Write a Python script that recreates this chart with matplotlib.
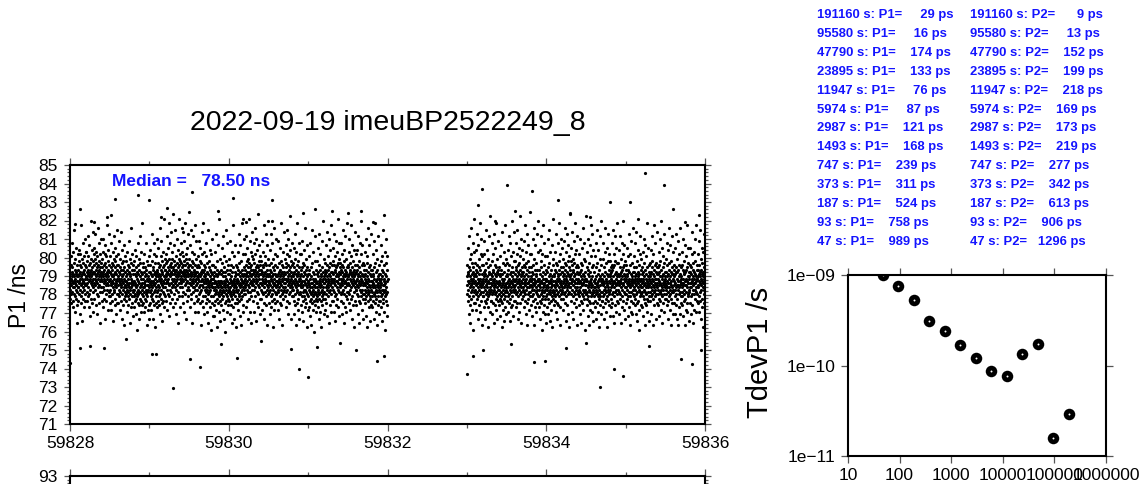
import numpy as np
import matplotlib
matplotlib.use("Agg")
import matplotlib.pyplot as plt
from matplotlib.ticker import MultipleLocator, FixedLocator

plt.rcParams["font.family"] = ["Liberation Sans", "DejaVu Sans"]

# ---------------- data ----------------
title = "2022-09-19 imeuBP2522249_8"
median_text = "Median =   78.50 ns"

# time segments (MJD) of the P1 record; samples are evenly spaced inside each
seg1_mjd = (59828.0, 59832.0)
seg2_mjd = (59833.0, 59836.0)

# P1 samples in the dense band, coded in steps of
# 0.12 ns; code 65 = 78.50 ns (the median)
P1_STEP_NS = 0.12
P1_REF_CODE, P1_REF_NS = 65, 78.50

p1_seg1_codes = """
63 70 66 59 74 68 61 78 65 57 71 67 84 62 69 73 55 66 64 80 70 58 67 75 61 64 90 69 72 60 66 53 77 68 63 71 82 59 65 70 48 67 74 62 69 56 79 64
72 64 58 69 76 66 81 61 70 67 52 74 63 79 68 71 60 65 92 69 57 73 66 62 77 70 49 68 75 64 71 84 59 67 63 72 55 78 66 70 61 86 68 74 58 65 80 69
65 73 69 80 62 71 58 76 68 66 87 72 60 70 64 78 55 69 74 67 83 61 71 68 51 75 70 63 94 66 72 59 77 69 65 81 70 57 73 67 62 89 68 76 64 71 53 79
74 66 71 59 82 68 77 63 70 88 65 72 56 75 69 67 80 61 73 70 52 78 66 71 64 91 68 74 60 69 76 57 72 84 65 70 67 79 62 73 48 71 68 86 64 75 69 58
70 62 77 67 73 55 80 69 64 71 86 66 74 59 68 72 63 79 70 50 75 67 83 61 69 73 65 58 78 71 66 92 63 70 68 76 54 72 81 65 69 60 74 67 88 62 71 57
63 71 68 78 60 66 73 54 70 65 84 69 61 75 67 58 72 80 64 69 49 74 66 62 77 70 87 63 68 71 56 76 65 73 59 82 67 64 70 52 78 66 72 61 90 68 74 57
69 61 74 65 57 79 67 63 71 85 60 68 73 54 66 70 62 77 64 89 68 58 72 65 50 75 67 61 81 69 63 70 56 76 66 72 59 83 64 68 47 73 65 71 60 78 67 62
61 69 64 76 58 67 72 53 66 63 80 70 60 65 74 56 68 62 85 71 64 59 73 66 48 69 63 77 61 70 66 55 75 64 68 91 60 72 65 57 79 67 62 70 51 74 63 66
67 60 72 63 55 76 65 61 70 81 58 66 73 52 64 69 59 78 62 68 45 71 65 60 84 67 57 74 63 70 61 50 77 66 62 72 56 87 64 69 59 75 62 53 68 80 65 71
58 66 63 93 61 70 56 73 64 68 60 75 57 66 71 53 64 62 79 69 59 65 73 55 67 61 84 70 63 58 72 65 47 68 62 76 60 69 65 54 74 63 67 50 71 64 56 78
68 62 74 57 66 71 81 60 65 70 54 67 63 76 59 69 88 64 61 72 66 50 73 67 58 79 62 70 65 84 56 68 71 63 46 75 66 60 70 78 64 57 69 86 62 72 55 67
71 63 58 69 75 65 82 60 68 73 56 70 64 91 67 61 74 52 69 66 78 59 72 63 85 68 57 71 65 76 49 70 62 67 80 64 73 58 69 66 95 61 74 55 68 72 60 77
64 72 79 66 70 58 75 69 87 63 71 67 54 76 70 82 61 73 68 66 93 60 72 77 65 51 70 74 63 84 69 57 75 71 66 89 62 73 68 80 59 70 64 77 97 67 55 72
73 65 70 83 61 72 68 76 57 71 66 90 64 74 69 52 78 67 72 63 86 70 59 75 68 65 81 73 48 69 71 62 77 66 95 70 74 60 68 79 64 72 55 76 69 84 67 71
66 75 71 60 80 68 73 64 89 70 57 74 67 78 62 72 69 85 53 71 76 65 70 93 68 61 74 79 66 72 50 77 69 63 82 71 67 58 75 88 64 70 73 60 69 98 66 74
72 63 77 68 55 70 83 66 74 61 69 90 65 71 59 76 67 73 48 70 80 64 68 62 75 87 66 71 57 72 69 64 79 53 70 67 92 63 74 68 60 77 71 65 85 58 69 73
63 71 66 78 59 69 74 53 68 64 85 70 61 73 67 57 76 65 82 69 62 71 47 67 75 63 70 89 58 68 72 65 79 55 67 71 64 93 60 69 74 66 52 72 80 63 68 70
69 60 73 64 78 57 67 62 84 66 71 53 68 63 75 59 65 90 61 70 67 48 73 64 58 76 66 62 81 69 55 67 72 63 45 71 65 79 60 68 86 64 57 70 66 74 51 68
60 68 64 74 56 66 71 51 63 69 80 61 67 58 73 64 88 62 66 54 70 63 76 59 65 46 69 72 61 67 83 57 64 70 60 95 66 62 53 71 65 77 58 67 63 49 72 64
67 61 56 70 64 75 59 66 82 62 69 54 71 63 87 60 65 73 50 67 62 78 57 69 64 71 44 66 61 76 63 90 58 68 65 53 72 60 67 84 62 70 56 64 74 59 66 63
63 70 58 66 77 61 68 52 72 64 85 60 67 62 74 56 69 65 80 48 66 71 59 63 92 67 61 73 55 68 64 78 62 66 50 71 60 83 65 69 57 74 63 67 46 70 64 59
68 62 73 57 66 80 63 70 54 67 72 60 88 65 61 75 58 69 64 51 71 66 83 62 68 59 76 65 47 70 63 93 67 60 72 56 66 79 64 69 53 73 61 67 86 63 70 65
64 72 68 79 61 70 66 55 74 69 87 63 71 58 76 67 82 65 73 50 69 62 77 68 95 64 71 59 75 66 85 62 70 53 73 67 80 60 72 69 48 74 65 78 63 70 89 66
72 65 70 58 77 68 84 63 71 67 53 75 69 91 64 72 60 79 66 73 49 70 68 86 62 74 57 71 67 81 65 73 61 97 69 55 76 70 64 83 68 72 59 78 66 70 52 74
63 70 76 66 59 72 68 85 62 71 65 54 74 67 80 61 69 73 57 66 92 64 70 50 75 68 62 78 66 71 88 60 69 74 56 67 63 83 70 65 47 72 67 77 61 69 94 64
70 62 67 74 57 66 81 63 69 52 72 65 88 60 68 71 55 75 64 67 61 84 69 58 73 66 46 70 63 77 65 91 59 68 72 54 66 79 62 70 65 57 74 67 86 61 69 64
61 69 65 73 58 67 78 63 70 54 66 85 62 71 67 50 75 64 68 60 82 66 72 57 69 93 63 70 65 76 56 68 61 74 47 67 71 64 80 62 69 59 73 66 89 63 70 68
71 64 68 77 60 70 66 83 62 73 68 55 75 67 90 63 71 58 79 69 65 52 74 68 86 61 72 66 78 57 70 64 96 67 73 62 81 69 65 50 76 68 71 60 84 66 74 63
64 70 60 67 75 63 69 82 58 71 66 52 73 65 88 61 68 77 56 70 64 47 72 67 80 62 69 57 74 66 93 63 70 59 76 65 54 71 68 84 61 67 73 50 69 65 79 62
68 61 72 64 56 70 66 79 60 67 53 73 64 85 62 69 58 75 65 49 71 63 81 67 60 74 66 55 70 63 91 59 68 72 57 65 77 62 69 46 73 64 83 61 67 70 54 66
60 67 63 72 55 65 70 78 58 64 51 68 62 84 66 59 73 61 47 69 64 57 75 62 66 90 60 68 54 71 63 80 58 65 67 44 70 61 76 64 56 68 62 87 59 66 72 53
67 61 58 70 64 76 60 66 82 62 69 55 71 63 50 67 74 59 65 88 61 68 64 53 72 66 79 58 69 62 46 70 65 85 60 67 73 56 63 71 59 94 64 68 61 77 52 66
62 69 66 75 59 68 72 54 70 64 83 61 67 71 57 74 65 89 63 69 51 72 66 78 60 68 64 48 73 67 86 62 70 56 75 65 81 63 69 53 71 66 92 61 68 74 58 67
71 64 68 58 76 67 82 63 70 66 53 74 68 88 62 71 60 78 65 72 49 69 67 85 61 73 56 70 64 80 67 74 59 95 66 69 55 75 63 71 84 68 62 77 51 70 65 73
64 70 75 66 58 72 68 84 61 71 65 52 74 67 79 62 69 90 57 68 73 63 70 48 76 66 61 81 67 72 55 69 64 87 60 71 66 77 53 70 68 62 93 65 73 59 69 74
69 62 73 66 80 57 70 65 86 61 71 68 54 75 63 72 67 92 59 70 64 78 50 69 73 66 83 60 68 71 56 76 65 70 46 72 67 81 62 69 89 64 74 58 70 66 79 63
63 71 67 56 74 65 81 61 68 72 52 69 64 87 60 70 66 76 58 67 48 73 63 84 69 65 57 71 62 79 66 94 60 68 74 54 67 63 83 70 65 59 75 61 69 50 72 66
69 61 66 74 57 68 63 80 59 70 65 51 72 62 86 67 60 75 64 46 69 66 78 58 68 63 91 61 71 55 67 73 62 83 65 59 70 64 49 74 60 67 88 63 69 56 72 65
60 67 72 62 55 69 64 79 58 66 70 50 73 61 85 65 68 57 75 62 93 64 60 71 53 67 63 81 59 68 47 72 65 62 77 56 69 64 87 60 66 74 52 68 63 70 58 65
67 62 58 70 64 76 60 68 83 55 66 63 72 49 69 61 78 65 57 71 63 90 59 67 74 62 53 68 65 80 60 70 45 66 63 75 58 69 86 64 61 72 56 67 62 78 51 68
"""

p1_seg2_codes = """
61 69 65 74 58 67 71 82 63 70 66 52 73 60 87 67 64 77 56 69 48 72 65 79 62 68 91 59 70 66 75 54 67 63 84 60 71 68 45 73 64 80 57 69 66 95 62 70
70 63 67 57 75 65 81 61 69 72 54 66 88 62 71 59 74 64 50 68 66 83 60 73 67 56 77 63 70 93 65 61 72 53 68 79 64 66 58 86 62 70 74 47 67 65 78 60
62 68 74 60 66 71 55 79 64 69 85 58 67 63 72 50 70 65 90 61 68 57 75 66 62 81 59 69 64 46 73 67 60 77 55 70 63 87 66 61 71 53 68 64 96 62 74 58
68 63 70 58 66 76 61 84 65 69 52 72 62 67 79 57 71 64 48 68 88 63 66 74 56 70 61 82 65 59 73 67 54 69 93 62 66 71 60 77 64 50 70 63 85 66 58 72
61 67 63 73 56 65 70 78 59 66 51 69 62 83 64 58 72 60 46 68 65 89 57 70 63 66 54 75 61 67 80 59 64 71 49 68 62 92 65 60 74 55 66 63 77 52 69 64
69 62 66 75 58 70 64 81 60 67 53 72 65 87 61 68 57 74 63 49 70 66 84 59 67 71 55 64 78 62 69 94 60 66 73 56 68 63 80 51 71 65 58 76 62 67 89 64
63 70 67 58 76 65 72 84 61 68 55 73 66 90 62 69 79 57 71 64 50 67 74 60 82 66 70 53 75 63 68 96 61 72 65 57 78 67 62 86 69 64 48 73 66 71 59 81
70 64 60 68 77 63 71 55 74 66 85 62 69 58 73 65 92 61 67 52 75 68 80 63 70 57 66 88 64 72 47 69 61 76 66 83 59 71 64 54 73 67 62 79 65 98 60 68
62 69 65 56 73 67 79 60 68 64 51 71 63 86 66 58 74 61 70 91 65 47 68 63 77 59 67 72 55 66 83 62 69 64 75 53 70 61 88 67 63 57 72 65 80 60 68 94
67 60 65 72 55 68 63 81 58 66 70 50 64 76 61 87 67 57 73 62 66 45 69 63 79 59 68 53 71 64 92 60 66 74 56 65 62 84 68 52 70 63 78 59 67 64 48 72
60 68 63 55 71 65 78 61 67 73 52 64 86 59 69 62 75 57 66 90 63 70 49 67 61 80 64 58 72 66 54 68 62 83 60 69 65 46 74 63 77 59 67 95 61 70 56 65
69 62 72 58 67 64 80 60 71 66 53 75 63 88 68 61 74 57 65 50 70 67 84 62 69 56 76 64 93 60 68 72 55 66 79 63 70 47 73 65 61 86 67 59 71 64 82 62
63 71 66 77 59 69 73 54 67 64 85 61 70 68 57 75 65 91 62 72 49 69 66 80 60 68 74 56 71 64 88 63 67 52 76 65 70 83 61 69 46 73 66 78 62 68 97 64
72 64 69 58 76 66 82 61 70 67 53 74 63 89 68 71 60 77 65 50 72 67 85 62 69 57 75 64 79 66 93 61 70 55 73 68 63 81 59 71 66 47 74 64 87 67 62 70
61 68 73 63 56 70 66 79 60 67 52 71 64 86 62 69 75 58 66 48 72 65 82 61 68 57 74 63 91 66 60 70 54 67 77 62 69 84 59 65 71 45 68 63 76 61 67 96
68 61 65 73 56 67 62 80 59 70 64 51 72 60 86 66 58 75 63 47 69 65 83 57 67 71 54 62 78 64 68 92 60 66 73 53 65 61 88 69 63 57 74 62 81 49 67 64
60 67 71 62 55 68 64 78 58 66 73 50 69 63 84 61 65 57 75 62 90 66 60 70 53 67 64 81 59 68 46 72 63 61 77 56 69 65 87 60 67 74 52 68 62 94 58 66
68 62 58 70 65 77 60 67 84 55 66 63 73 50 69 61 80 64 57 71 63 91 59 68 75 62 53 67 65 82 60 70 46 66 64 76 58 69 88 63 61 72 56 67 62 79 51 69
63 70 66 76 59 68 73 55 71 64 84 61 67 72 57 74 65 90 62 69 51 73 66 79 60 67 64 48 74 66 87 62 70 56 76 65 82 63 68 53 71 66 93 61 69 75 58 67
70 63 67 57 75 66 81 62 69 65 52 73 67 87 61 70 59 77 64 71 48 68 66 84 60 72 55 69 63 79 66 73 58 94 65 68 54 74 62 70 83 67 61 76 50 69 64 72
61 68 74 64 57 70 66 82 59 69 63 51 72 65 78 60 67 88 55 66 71 62 68 47 74 64 60 79 65 70 53 67 62 85 58 69 65 75 52 68 66 61 91 63 71 57 67 73
67 60 71 64 78 56 68 63 84 59 69 66 52 73 61 70 65 89 57 68 62 76 49 67 71 64 81 58 66 69 54 74 63 68 45 70 65 79 60 67 87 62 72 56 68 64 77 61
62 70 66 55 73 64 80 60 67 71 51 68 63 86 59 69 65 75 57 66 47 72 62 83 68 64 56 70 61 78 65 93 59 67 73 53 66 62 82 69 64 58 74 60 68 49 71 65
70 62 67 75 58 69 64 81 60 71 66 52 73 63 87 68 61 76 65 47 70 67 79 59 69 64 92 62 72 56 68 74 63 84 66 60 71 65 50 75 61 68 89 64 70 57 73 66
61 68 73 63 56 70 65 80 59 67 71 51 74 62 86 66 69 58 76 63 94 65 61 72 54 68 64 82 60 69 48 73 66 63 78 57 70 65 88 61 67 75 53 69 64 71 59 66
68 63 59 71 65 77 61 69 84 56 67 64 74 50 70 62 81 66 58 72 64 91 60 68 75 63 54 69 66 83 61 71 47 67 65 76 59 70 87 64 62 73 57 68 63 80 52 70
62 69 65 74 57 67 72 52 70 63 82 60 66 71 56 73 64 88 61 68 50 71 65 77 59 67 63 47 72 65 85 61 69 55 74 64 79 62 67 52 70 65 91 60 68 73 57 66
69 62 66 56 74 64 80 60 68 65 51 72 66 86 61 70 58 76 63 71 47 67 65 83 59 71 54 68 62 78 65 72 57 92 64 67 53 73 61 69 82 66 60 75 49 68 63 71
62 69 74 64 57 71 66 82 60 70 64 52 73 66 79 61 68 89 56 67 72 63 69 48 75 65 61 80 66 71 54 68 63 86 59 70 66 76 53 69 67 62 92 64 72 58 68 74
68 61 72 65 79 57 69 64 85 60 70 67 53 74 62 71 66 90 58 69 63 77 50 68 72 65 82 59 67 70 55 75 64 69 46 71 66 80 61 68 88 63 73 57 69 65 78 62
"""

# isolated outlying P1 points (MJD, ns)
outlier_mjd = [59828.57, 59828.86, 59829.00, 59829.54, 59830.05, 59830.54, 59828.12, 59829.22,
               59829.86, 59831.09, 59828.06, 59828.30, 59828.47, 59828.52, 59829.15, 59829.41,
               59830.18, 59830.22, 59830.55, 59830.93, 59831.30, 59831.50, 59831.66, 59831.95,
               59831.82, 59829.30, 59831.00, 59830.88, 59830.10, 59829.51, 59829.64, 59829.03,
               59829.08, 59828.13, 59828.25, 59828.43, 59828.00, 59830.78, 59831.11, 59831.87,
               59828.70, 59829.90, 59830.40, 59831.40, 59831.60, 59831.96,
               59835.24, 59835.48, 59833.50, 59833.19, 59833.82, 59834.15, 59834.80, 59835.05,
               59833.14, 59833.60, 59834.30, 59834.55, 59835.15, 59835.60, 59835.92, 59833.35,
               59835.75, 59833.00, 59834.68, 59834.97, 59834.85, 59833.85, 59833.98, 59835.70,
               59835.83, 59833.08, 59833.20, 59833.55, 59834.25, 59834.50, 59835.30, 59835.95]
outlier_p1 = [83.16, 83.40, 83.10, 83.55, 83.20, 83.10, 82.60, 82.70,
              82.50, 82.60, 81.80, 81.90, 82.20, 82.30, 82.20, 81.60,
              82.10, 81.90, 82.00, 82.40, 82.50, 82.40, 82.50, 82.30,
              81.90, 72.95, 73.56, 74.00, 74.55, 74.50, 74.10, 74.80,
              74.80, 75.10, 75.20, 75.10, 74.30, 75.05, 75.15, 74.40,
              75.60, 75.30, 75.50, 75.40, 75.00, 74.70,
              84.55, 83.90, 83.90, 83.70, 83.60, 83.10, 83.00, 83.00,
              82.85, 82.50, 82.40, 82.20, 82.10, 82.60, 82.30, 82.00,
              81.90, 73.70, 73.00, 73.60, 74.00, 74.35, 74.40, 74.50,
              74.25, 74.65, 75.00, 75.30, 75.10, 75.40, 75.20, 75.00]

# TDEV table
tau_s = [191160, 95580, 47790, 23895, 11947, 5974, 2987, 1493, 747, 373, 187, 93, 47]
tdev_p1_ps = [29, 16, 174, 133, 76, 87, 121, 168, 239, 311, 524, 758, 989]
tdev_p2_ps = [9, 13, 152, 199, 218, 169, 173, 219, 277, 342, 613, 906, 1296]

# ---------------- figure ----------------
W, H = 1145, 484
fig = plt.figure(figsize=(W / 100, H / 100), dpi=100)


def frac(x0, y0, x1, y1):
    return [x0 / W, 1 - y1 / H, (x1 - x0) / W, (y1 - y0) / H]


TICKFS = 12.5
BLUE = "#1414ff"


def decode(codes):
    c = np.array(codes.split(), float)
    return P1_REF_NS + (c - P1_REF_CODE) * P1_STEP_NS


p1_seg1 = decode(p1_seg1_codes)
p1_seg2 = decode(p1_seg2_codes)
t1 = np.linspace(seg1_mjd[0], seg1_mjd[1], len(p1_seg1))
t2 = np.linspace(seg2_mjd[0], seg2_mjd[1], len(p1_seg2))


def style_time_axes(a, ylim, yticks, ylabels):
    a.set_xlim(59828, 59836)
    a.set_ylim(*ylim)
    a.xaxis.set_major_locator(MultipleLocator(2))
    a.xaxis.set_minor_locator(MultipleLocator(1))
    a.set_yticks(yticks)
    a.set_yticklabels(ylabels)
    a.yaxis.set_minor_locator(MultipleLocator(0.2))
    a.tick_params(which="both", direction="out", top=True, right=True,
                  labelsize=TICKFS, width=0.9, color="#555555")
    a.tick_params(axis="x", which="major", length=5.0, pad=4)
    a.tick_params(axis="x", which="minor", length=2.8)
    a.tick_params(axis="y", which="major", length=4.0, pad=5)
    a.tick_params(axis="y", which="minor", length=2.2)
    for s in a.spines.values():
        s.set_linewidth(1.5)


ax = fig.add_axes(frac(70, 165, 705, 424))
for tt, yy in ((t1, p1_seg1), (t2, p1_seg2), (outlier_mjd, outlier_p1)):
    ax.plot(tt, yy, "o", ms=2.3, mew=0, color="black")
yt = list(range(71, 86))
style_time_axes(ax, (71, 85), yt, [str(v) for v in yt])
ax.xaxis.set_major_formatter(lambda v, pos: f"{v:.0f}")
fig.text(112 / W, 1 - 186 / H, median_text, color=BLUE, fontsize=12.5,
         fontweight="bold", va="baseline", ha="left")
fig.text(387.5 / W, 1 - 130 / H, title, fontsize=20.5, ha="center", va="baseline")
fig.text(20 / W, 1 - 295 / H, "P1 /ns", rotation=90, fontsize=16.5,
         ha="center", va="center")

# second (lower) panel, mostly below the canvas
ax2 = fig.add_axes(frac(70, 476, 705, 735))
style_time_axes(ax2, (79, 93), [93], ["93"])
ax2.tick_params(axis="x", labelbottom=False)

# TDEV table
for i, (tau, a, b) in enumerate(zip(tau_s, tdev_p1_ps, tdev_p2_ps)):
    yy = 1 - (15 + 18.9 * i) / H
    fig.text(817 / W, yy, f"{tau} s: P1= {a:6d} ps", color=BLUE, fontsize=9.4,
             fontweight="bold", va="center", ha="left")
    fig.text(970 / W, yy, f"{tau} s: P2= {b:6d} ps", color=BLUE, fontsize=9.4,
             fontweight="bold", va="center", ha="left")

# TDEV plot
axt = fig.add_axes(frac(848, 275, 1106, 456))
tdev_s = np.array(tdev_p1_ps) * 1e-12
axt.loglog(tau_s, tdev_s, "o", ms=8.3, color="black", mew=0)
axt.loglog(tau_s, tdev_s, "o", ms=1.4, color="white", mew=0)
axt.set_xlim(10, 1e6)
axt.set_ylim(1e-11, 1e-9)
axt.xaxis.set_major_locator(FixedLocator([10, 100, 1000, 1e4, 1e5, 1e6]))
axt.set_xticklabels(["10", "100", "1000", "10000", "100000", "1000000"])
axt.yaxis.set_major_locator(FixedLocator([1e-11, 1e-10, 1e-9]))
axt.set_yticklabels(["1e\u221211", "1e\u221210", "1e\u221209"])
axt.minorticks_off()
axt.tick_params(which="both", direction="out", top=True, right=True,
                labelsize=TICKFS, width=0.9, length=5.0, pad=4, color="#555555")
for s in axt.spines.values():
    s.set_linewidth(1.5)
fig.text(760 / W, 1 - 352 / H, "TdevP1 /s", rotation=90, fontsize=21,
         ha="center", va="center")

fig.savefig("out.png", dpi=100)
